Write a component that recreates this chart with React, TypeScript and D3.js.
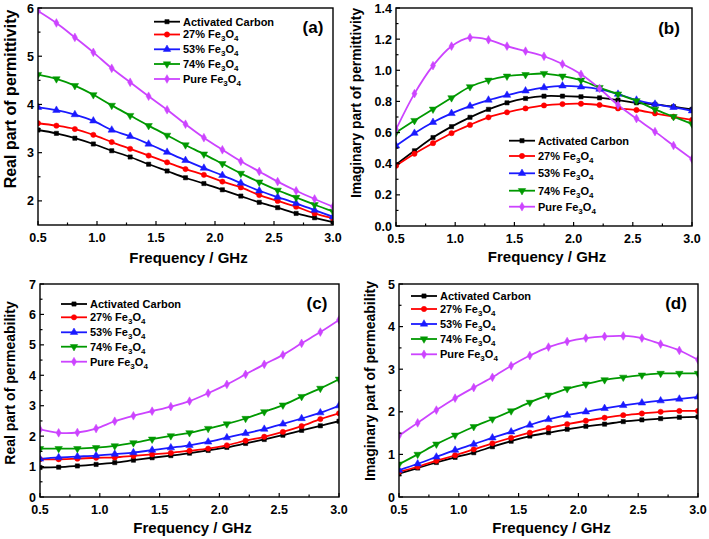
import React from "react";
import * as d3 from "d3";

const freq = [0.5, 0.656, 0.8125, 0.969, 1.125, 1.281, 1.4375, 1.594, 1.75, 1.906, 2.0625, 2.219, 2.375, 2.531, 2.6875, 2.844, 3.0];

const seriesNames = ["Activated Carbon", "27% Fe3O4", "53% Fe3O4", "74% Fe3O4", "Pure Fe3O4"];
const seriesColors = ["#000000", "#ff0000", "#1a1aff", "#009900", "#cc44ff"];
const seriesMarkers = ["square", "circle", "triangleUp", "triangleDown", "diamond"];

// (a) Real part of permittivity
const epsReal = [
  [3.47, 3.40, 3.30, 3.18, 3.04, 2.91, 2.76, 2.62, 2.48, 2.36, 2.23, 2.10, 1.97, 1.86, 1.74, 1.65, 1.56],
  [3.61, 3.56, 3.49, 3.37, 3.22, 3.08, 2.94, 2.80, 2.66, 2.54, 2.40, 2.28, 2.12, 2.00, 1.88, 1.74, 1.64],
  [3.94, 3.88, 3.79, 3.66, 3.47, 3.34, 3.18, 3.01, 2.84, 2.68, 2.53, 2.37, 2.21, 2.08, 1.95, 1.81, 1.67],
  [4.62, 4.53, 4.39, 4.20, 3.98, 3.77, 3.56, 3.36, 3.16, 2.97, 2.77, 2.57, 2.39, 2.22, 2.07, 1.92, 1.78],
  [5.94, 5.69, 5.39, 5.08, 4.75, 4.46, 4.17, 3.89, 3.59, 3.31, 3.06, 2.82, 2.61, 2.40, 2.21, 2.04, 1.88],
];

// (b) Imaginary part of permittivity
const epsImag = [
  [0.394, 0.483, 0.568, 0.638, 0.698, 0.749, 0.791, 0.819, 0.834, 0.834, 0.830, 0.823, 0.809, 0.791, 0.781, 0.766, 0.749],
  [0.387, 0.464, 0.532, 0.596, 0.649, 0.698, 0.730, 0.755, 0.774, 0.783, 0.785, 0.777, 0.755, 0.745, 0.723, 0.702, 0.681],
  [0.515, 0.596, 0.666, 0.723, 0.770, 0.809, 0.840, 0.868, 0.889, 0.900, 0.894, 0.879, 0.847, 0.809, 0.783, 0.762, 0.740],
  [0.600, 0.677, 0.750, 0.823, 0.894, 0.936, 0.962, 0.972, 0.979, 0.962, 0.936, 0.889, 0.847, 0.804, 0.749, 0.702, 0.655],
  [0.620, 0.850, 1.030, 1.155, 1.210, 1.196, 1.155, 1.123, 1.090, 1.040, 0.974, 0.883, 0.777, 0.690, 0.606, 0.517, 0.430],
];

// (c) Real part of permeability
const muReal = [
  [0.97, 0.98, 1.02, 1.07, 1.13, 1.21, 1.29, 1.36, 1.44, 1.53, 1.63, 1.76, 1.89, 2.03, 2.19, 2.34, 2.49],
  [1.24, 1.24, 1.26, 1.29, 1.30, 1.35, 1.40, 1.45, 1.52, 1.59, 1.70, 1.85, 1.98, 2.14, 2.33, 2.56, 2.75],
  [1.25, 1.30, 1.33, 1.36, 1.41, 1.46, 1.54, 1.62, 1.70, 1.81, 1.95, 2.09, 2.23, 2.40, 2.58, 2.77, 3.00],
  [1.59, 1.59, 1.59, 1.62, 1.68, 1.78, 1.90, 2.01, 2.11, 2.25, 2.40, 2.58, 2.80, 3.02, 3.30, 3.57, 3.87],
  [2.22, 2.11, 2.12, 2.25, 2.49, 2.67, 2.82, 2.97, 3.15, 3.41, 3.70, 4.03, 4.36, 4.67, 5.05, 5.42, 5.82],
];

// (d) Imaginary part of permeability
const muImag = [
  [0.55, 0.68, 0.81, 0.93, 1.04, 1.18, 1.31, 1.43, 1.51, 1.59, 1.66, 1.71, 1.77, 1.81, 1.84, 1.87, 1.88],
  [0.59, 0.71, 0.85, 0.98, 1.12, 1.26, 1.39, 1.51, 1.62, 1.71, 1.79, 1.86, 1.92, 1.96, 2.00, 2.02, 2.02],
  [0.63, 0.78, 0.94, 1.10, 1.24, 1.39, 1.53, 1.69, 1.82, 1.92, 2.00, 2.08, 2.15, 2.21, 2.26, 2.30, 2.35],
  [0.77, 1.00, 1.24, 1.45, 1.65, 1.83, 2.02, 2.22, 2.39, 2.54, 2.65, 2.75, 2.81, 2.86, 2.90, 2.90, 2.90],
  [1.44, 1.74, 2.04, 2.32, 2.57, 2.81, 3.08, 3.32, 3.52, 3.65, 3.73, 3.77, 3.78, 3.73, 3.59, 3.44, 3.22],
];

const xTicks = [0.5, 1.0, 1.5, 2.0, 2.5, 3.0];
const xMinor = [0.75, 1.25, 1.75, 2.25, 2.75];

const FONT = "'Liberation Sans', Arial, Helvetica, sans-serif";

type Panel = {
  data: number[][];
  left: number; right: number; top: number; bottom: number;
  yDomain: [number, number];
  yTicks: number[];
  yMinor: number[];
  yFmt: (v: number) => string;
  yTitle: string;
  yTitleSize: number;
  yTitleX: number; yTitleY: number;
  xTitleY: number;
  label: string; labelX: number; labelY: number;
  legX: number; legY: number[];
};

const panels: Panel[] = [
  {
    data: epsReal, left: 38, right: 333, top: 8, bottom: 225,
    yDomain: [1.5, 6], yTicks: [2, 3, 4, 5, 6], yMinor: [2.5, 3.5, 4.5, 5.5],
    yFmt: (v) => d3.format("d")(v),
    yTitle: "Real part of permittivity", yTitleSize: 16, yTitleX: 16, yTitleY: 99, xTitleY: 263,
    label: "(a)", labelX: 313, labelY: 33,
    legX: 154, legY: [21.7, 34.5, 49.3, 64, 79],
  },
  {
    data: epsImag, left: 396, right: 692, top: 8, bottom: 226,
    yDomain: [0, 1.4], yTicks: [0, 0.2, 0.4, 0.6, 0.8, 1.0, 1.2, 1.4], yMinor: [0.1, 0.3, 0.5, 0.7, 0.9, 1.1, 1.3],
    yFmt: (v) => d3.format(".1f")(v),
    yTitle: "Imaginary part of permittivity", yTitleSize: 13.8, yTitleX: 361, yTitleY: 103, xTitleY: 262,
    label: "(b)", labelX: 669, labelY: 34,
    legX: 509, legY: [140.7, 156, 173.3, 190.7, 206.7],
  },
  {
    data: muReal, left: 40, right: 339, top: 284, bottom: 497,
    yDomain: [0, 7], yTicks: [0, 1, 2, 3, 4, 5, 6, 7], yMinor: [0.5, 1.5, 2.5, 3.5, 4.5, 5.5, 6.5],
    yFmt: (v) => d3.format("d")(v),
    yTitle: "Real part of permeability", yTitleSize: 14, yTitleX: 15, yTitleY: 383, xTitleY: 533,
    label: "(c)", labelX: 317, labelY: 309,
    legX: 61, legY: [304, 317.3, 332.3, 346.7, 361.7],
  },
  {
    data: muImag, left: 399, right: 698, top: 284, bottom: 497,
    yDomain: [0, 5], yTicks: [0, 1, 2, 3, 4, 5], yMinor: [0.5, 1.5, 2.5, 3.5, 4.5],
    yFmt: (v) => d3.format("d")(v),
    yTitle: "Imaginary part of permeability", yTitleSize: 14, yTitleX: 375, yTitleY: 381, xTitleY: 533,
    label: "(d)", labelX: 676, labelY: 309,
    legX: 411, legY: [296, 309, 324, 339, 354.3],
  },
];

function markerPath(kind: string): string {
  const symMap: Record<string, any> = {
    square: d3.symbolSquare,
    circle: d3.symbolCircle,
    triangleUp: d3.symbolTriangle,
    triangleDown: d3.symbolTriangle,
    diamond: d3.symbolDiamond,
  };
  const sizes: Record<string, number> = { square: 18, circle: 22, triangleUp: 24, triangleDown: 24, diamond: 22 };
  return d3.symbol().type(symMap[kind]).size(sizes[kind])() as string;
}

function Marker({ kind, x, y, color }: { kind: string; x: number; y: number; color: string }) {
  const rot = kind === "triangleDown" ? " rotate(180)" : "";
  return <path d={markerPath(kind)} transform={`translate(${x},${y})${rot}`} fill={color} stroke={color} strokeWidth={0.5} />;
}

function LegendLabel({ name, x, y }: { name: string; x: number; y: number }) {
  const m = name.match(/^(.*)Fe3O4$/);
  if (!m) {
    return <text x={x} y={y} dy="0.36em" fontSize={11} fontWeight="bold" fontFamily={FONT}>{name}</text>;
  }
  return (
    <text x={x} y={y} dy="0.36em" fontSize={11} fontWeight="bold" fontFamily={FONT}>
      {m[1]}Fe<tspan fontSize={8} dy="3">3</tspan><tspan dy="-3">O</tspan><tspan fontSize={8} dy="3">4</tspan>
    </text>
  );
}

function PanelView({ p }: { p: Panel }) {
  const x = d3.scaleLinear().domain([0.5, 3.0]).range([p.left, p.right]);
  const y = d3.scaleLinear().domain(p.yDomain).range([p.bottom, p.top]);
  const line = d3.line<number>().x((_, i) => x(freq[i])).y((v) => y(v)).curve(d3.curveCatmullRom.alpha(0.5));
  const clipId = `clip-${p.label.replace(/[()]/g, "")}`;
  return (
    <g>
      <defs>
        <clipPath id={clipId}>
          <rect x={p.left} y={p.top} width={p.right - p.left} height={p.bottom - p.top} />
        </clipPath>
      </defs>
      <g clipPath={`url(#${clipId})`}>
        {p.data.map((s, si) => (
          <path key={si} d={line(s) as string} fill="none" stroke={seriesColors[si]} strokeWidth={1.8} />
        ))}
        {p.data.map((s, si) =>
          s.map((v, i) => <Marker key={`${si}-${i}`} kind={seriesMarkers[si]} x={x(freq[i])} y={y(v)} color={seriesColors[si]} />)
        )}
      </g>
      <rect x={p.left} y={p.top} width={p.right - p.left} height={p.bottom - p.top} fill="none" stroke="#000" strokeWidth={1.4} />
      {xTicks.map((t) => (
        <g key={`xt${t}`}>
          <line x1={x(t)} x2={x(t)} y1={p.bottom} y2={p.bottom - 4} stroke="#000" strokeWidth={1.2} />
          <text x={x(t)} y={p.bottom + 17} textAnchor="middle" fontSize={12.5} fontWeight="bold" fontFamily={FONT}>{d3.format(".1f")(t)}</text>
        </g>
      ))}
      {xMinor.map((t) => (
        <line key={`xm${t}`} x1={x(t)} x2={x(t)} y1={p.bottom} y2={p.bottom - 2.5} stroke="#000" strokeWidth={1.2} />
      ))}
      {p.yTicks.map((t) => (
        <g key={`yt${t}`}>
          <line x1={p.left} x2={p.left + 4} y1={y(t)} y2={y(t)} stroke="#000" strokeWidth={1.2} />
          <text x={p.left - 4} y={y(t)} dy="0.36em" textAnchor="end" fontSize={12.5} fontWeight="bold" fontFamily={FONT}>{p.yFmt(t)}</text>
        </g>
      ))}
      {p.yMinor.map((t) => (
        <line key={`ym${t}`} x1={p.left} x2={p.left + 2.5} y1={y(t)} y2={y(t)} stroke="#000" strokeWidth={1.2} />
      ))}
      <text x={(p.left + p.right) / 2 + 3} y={p.xTitleY} textAnchor="middle" fontSize={15} fontWeight="bold" fontFamily={FONT}>Frequency / GHz</text>
      <text transform={`translate(${p.yTitleX},${p.yTitleY}) rotate(-90)`} textAnchor="middle" fontSize={p.yTitleSize} fontWeight="bold" fontFamily={FONT}>{p.yTitle}</text>
      <text x={p.labelX} y={p.labelY} textAnchor="middle" fontSize={17} fontWeight="bold" fontFamily={FONT}>{p.label}</text>
      {seriesNames.map((n, si) => (
        <g key={`lg${si}`}>
          <line x1={p.legX} x2={p.legX + 26} y1={p.legY[si]} y2={p.legY[si]} stroke={seriesColors[si]} strokeWidth={1.8} />
          <Marker kind={seriesMarkers[si]} x={p.legX + 13} y={p.legY[si]} color={seriesColors[si]} />
          <LegendLabel name={n} x={p.legX + 29} y={p.legY[si]} />
        </g>
      ))}
    </g>
  );
}

export default function App() {
  return (
    <svg width={709} height={539} style={{ position: "absolute", left: 0, top: 0, background: "#fff" }}>
      <rect width={709} height={539} fill="#fff" />
      {panels.map((p, i) => <PanelView key={i} p={p} />)}
    </svg>
  );
}
